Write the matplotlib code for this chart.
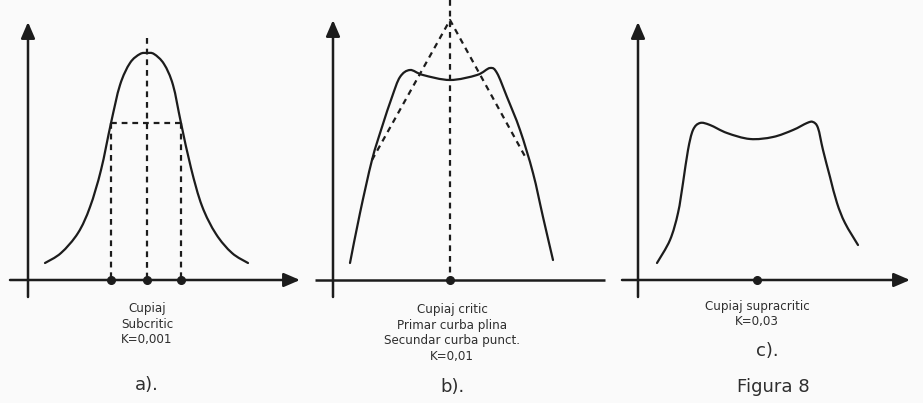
"""Coupled resonant circuits: frequency response for three coupling factors (Figura 8)."""

import matplotlib
matplotlib.use("Agg")
import matplotlib.pyplot as plt
from matplotlib.path import Path
from matplotlib.patches import PathPatch

# a) subcritical coupling, K=0,001
a_x = [17, 33, 50, 62, 73, 83, 92, 102, 112, 119, 126, 136, 145, 153, 163, 174, 188, 204, 220]
a_y = [17, 27, 47, 73, 110, 157, 195, 217, 226, 227, 226, 216, 195, 157, 112, 74, 46, 27, 17]
a_marks = [83, 119, 153]       # band edges and resonance on the frequency axis
a_half = 157                   # level of the band-edge guide
a_center_top = 242

# b) critical coupling, K=0,01 (primary solid, secondary dashed)
b_x = [17, 27, 39, 49, 59, 67, 77, 90, 117, 144, 157, 164, 174, 187, 200, 210, 220]
b_y = [17, 67, 120, 153, 183, 203, 210, 205, 200, 205, 212, 207, 183, 150, 107, 63, 20]
b_sec_x = [39, 117, 194]
b_sec_y = [120, 260, 120]
b_center = 117
b_center_top = 280

# c) supracritical coupling, K=0,03
c_x = [19, 32, 40, 45, 50, 55, 62, 72, 89, 112, 135, 155, 169, 175, 180, 185, 192, 199, 207, 220]
c_y = [17, 40, 67, 97, 130, 150, 157, 155, 147, 141, 143, 150, 157, 158, 152, 130, 103, 77, 57, 35]
c_center = 119

captions = [
    "Cupiaj\nSubcritic\nK=0,001",
    "Cupiaj critic\nPrimar curba plina\nSecundar curba punct.\nK=0,01",
    "Cupiaj supracritic\nK=0,03",
]
letters = ["a).", "b).", "c)."]
fig_title = "Figura 8"

INK = "#1c1c1c"
TXT = "#2e2e2e"
BG = "#fafafa"
W, H = 923, 403


def smooth_path(xs, ys):
    # Catmull-Rom through the points, drawn as cubic Bezier segments
    pts = list(zip(xs, ys))
    verts = [pts[0]]
    codes = [Path.MOVETO]
    n = len(pts)
    for i in range(n - 1):
        p0 = pts[max(i - 1, 0)]
        p1 = pts[i]
        p2 = pts[i + 1]
        p3 = pts[min(i + 2, n - 1)]
        c1 = (p1[0] + (p2[0] - p0[0]) / 6, p1[1] + (p2[1] - p0[1]) / 6)
        c2 = (p2[0] - (p3[0] - p1[0]) / 6, p2[1] - (p3[1] - p1[1]) / 6)
        verts += [c1, c2, p2]
        codes += [Path.CURVE4] * 3
    return Path(verts, codes)


def draw_axes(ax, x_end, y_end, x_start=-18, x_arrow=True):
    style = "-|>,head_length=0.65,head_width=0.28"
    ax.annotate("", xy=(0, y_end), xytext=(0, -17),
                arrowprops=dict(arrowstyle=style, color=INK, lw=1.8,
                                mutation_scale=15, shrinkA=0, shrinkB=0))
    if x_arrow:
        ax.annotate("", xy=(x_end, 0), xytext=(x_start, 0),
                    arrowprops=dict(arrowstyle=style, color=INK, lw=1.8,
                                    mutation_scale=15, shrinkA=0, shrinkB=0))
    else:
        ax.plot([x_start, x_end], [0, 0], color=INK, lw=1.8, solid_capstyle="butt")


def curve(ax, xs, ys):
    ax.add_patch(PathPatch(smooth_path(xs, ys), fill=False, edgecolor=INK,
                           lw=1.6, capstyle="round"))


def dashed(ax, xs, ys):
    ax.plot(xs, ys, color=INK, lw=1.6, dashes=(2.6, 2.2))


def dots(ax, xs):
    ax.plot(xs, [0] * len(xs), "o", color=INK, ms=5.5, zorder=5)


fig = plt.figure(figsize=(W / 100, H / 100), dpi=100, facecolor=BG)
axes = []
for ox in (28, 333, 638):
    ax = fig.add_axes([(ox - 20) / W, 0, 305 / W, 1])
    ax.set_xlim(-20, 285)
    ax.set_ylim(-123, 280)
    ax.set_axis_off()
    axes.append(ax)
ax_a, ax_b, ax_c = axes

# a)
draw_axes(ax_a, 272, 258)
curve(ax_a, a_x, a_y)
dashed(ax_a, [a_marks[0], a_marks[2]], [a_half, a_half])
dashed(ax_a, [a_marks[0], a_marks[0]], [a_half, 0])
dashed(ax_a, [a_marks[2], a_marks[2]], [a_half, 0])
dashed(ax_a, [a_marks[1], a_marks[1]], [a_center_top, 0])
dots(ax_a, a_marks)

# b)
draw_axes(ax_b, 272, 260, x_arrow=False)
curve(ax_b, b_x, b_y)
dashed(ax_b, b_sec_x, b_sec_y)
dashed(ax_b, [b_center, b_center], [b_center_top, 0])
dots(ax_b, [b_center])

# c)
draw_axes(ax_c, 272, 258, x_start=-16)
curve(ax_c, c_x, c_y)
dots(ax_c, [c_center])

# captions under each frequency axis
cap_y = [-44, -53, -34]
letter_pos = [(119, -105), (119, -107), (129, -71)]
for ax, cap, cy, let, (lx, ly) in zip(axes, captions, cap_y, letters, letter_pos):
    ax.text(119, cy, cap, ha="center", va="center", fontsize=8.6,
            color=TXT, linespacing=1.25, clip_on=False)
    ax.text(lx, ly, let, ha="center", va="center", fontsize=13,
            color=TXT, clip_on=False)
ax_c.text(135, -107, fig_title, ha="center", va="center", fontsize=13,
          color=TXT, clip_on=False)

fig.savefig("out.png", dpi=100, facecolor=BG)
